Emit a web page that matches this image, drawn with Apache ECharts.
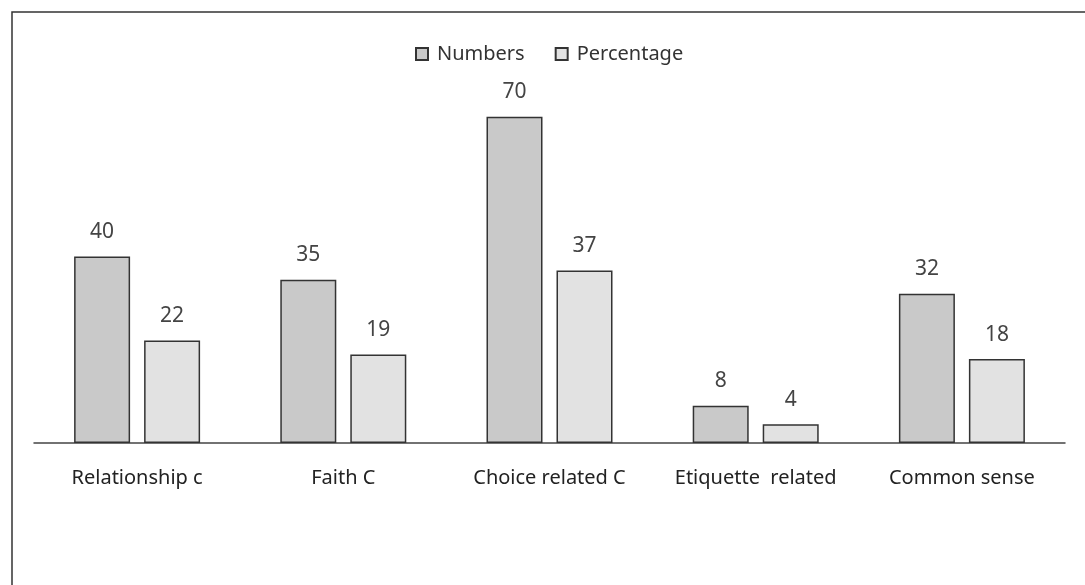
<!DOCTYPE html>
<html>
<head>
<meta charset="utf-8">
<script src="https://cdn.jsdelivr.net/npm/echarts@6/dist/echarts.min.js"></script>
<style>
  html, body { margin: 0; padding: 0; background: #fff; }
  #main { width: 1085px; height: 585px; }
</style>
</head>
<body>
<div id="main"></div>
<script>
const categories = ['Relationship c', 'Faith C', 'Choice related C', 'Etiquette  related', 'Common sense'];
const numbers = [40, 35, 70, 8, 32];
const percentage = [22, 19, 37, 4, 18];

const chart = echarts.init(document.getElementById('main'), null, { renderer: 'canvas' });

const font = 'Noto Sans';

var option = {
    backgroundColor: '#ffffff',
    animation: false,
    textStyle: { fontFamily: font },
    graphic: [{
        type: 'rect',
        shape: { x: 12, y: 12, width: 1100, height: 600 },
        style: { fill: 'none', stroke: '#333', lineWidth: 1.5 }
    }],
    legend: {
        top: 39,
        left: 410,
        itemWidth: 12,
        itemHeight: 12,
        itemGap: 30,
        textStyle: { fontSize: 20, color: '#333', fontFamily: font, padding: [0, 0, 0, 4] },
        data: [
            { name: 'Numbers', icon: 'rect' },
            { name: 'Percentage', icon: 'rect' }
        ]
    },
    grid: { left: 34, right: 20, top: 70, bottom: 142 },
    xAxis: {
        type: 'category',
        data: categories,
        axisLine: { lineStyle: { color: '#444', width: 1.5 } },
        axisTick: { show: false },
        axisLabel: { fontSize: 20, color: '#222', margin: 25, fontFamily: font, interval: 0 }
    },
    yAxis: {
        type: 'value',
        min: 0,
        max: 80,
        show: false,
        splitLine: { show: false }
    },
    series: [{
        name: 'Numbers',
        type: 'bar',
        data: numbers,
        barWidth: 56,
        barGap: '25%',
        itemStyle: { color: '#c9c9c9', borderColor: '#333', borderWidth: 1.5 },
        label: { show: true, position: 'top', distance: 14, fontSize: 21, color: '#444', fontFamily: font }
    }, {
        name: 'Percentage',
        type: 'bar',
        data: percentage,
        barWidth: 56,
        itemStyle: { color: '#e2e2e2', borderColor: '#333', borderWidth: 1.5 },
        label: { show: true, position: 'top', distance: 14, fontSize: 21, color: '#444', fontFamily: font }
    }]
};

chart.setOption(option);
</script>
</body>
</html>
